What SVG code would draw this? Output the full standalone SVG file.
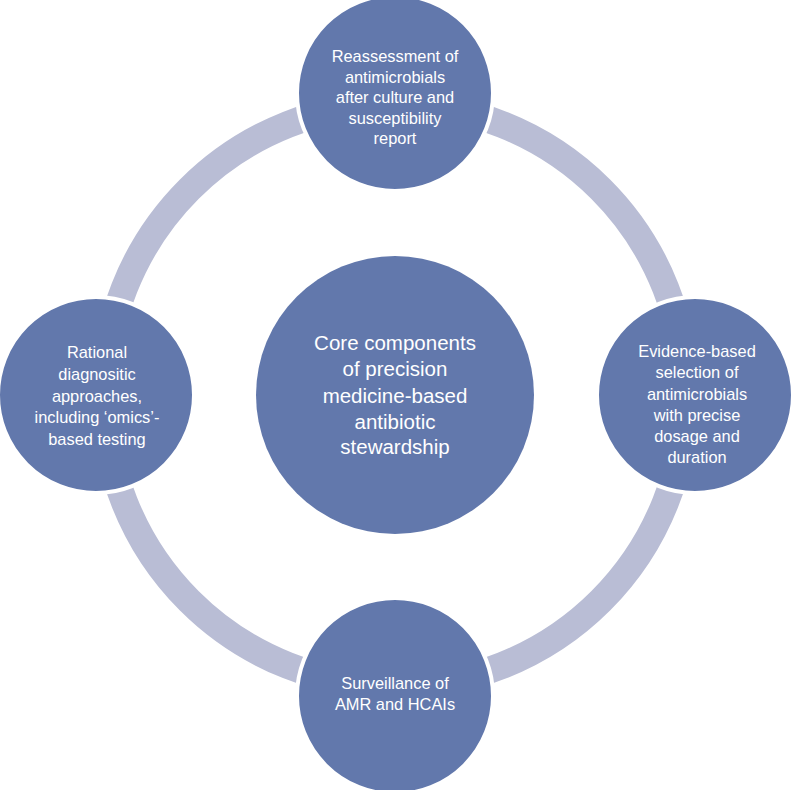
<svg xmlns="http://www.w3.org/2000/svg" width="791" height="790" viewBox="0 0 791 790">
<style>
.ring{fill:none;stroke:#B9BDD5;stroke-width:27}
.node{fill:#6278AC;stroke:#FFFFFF;stroke-width:4}
.core{fill:#6278AC}
text{fill:#FFFFFF;font-family:"Liberation Sans",Arial,sans-serif;text-anchor:middle}
.s{font-size:16.4px}
.c{font-size:20.5px}
</style>
<rect width="791" height="790" fill="#FFFFFF"/>
<g id="connectors">
<circle class="ring" cx="395" cy="395" r="291"/>
</g>
<g id="core">
<circle class="core" cx="395" cy="395" r="139"/>
<text class="c"><tspan x="395" y="350">Core components</tspan><tspan x="395" y="376">of precision</tspan><tspan x="395" y="402.5">medicine-based</tspan><tspan x="395" y="428.5">antibiotic</tspan><tspan x="395" y="454">stewardship</tspan></text>
</g>
<g id="top">
<circle class="node" cx="395" cy="93" r="98"/>
<text class="s"><tspan x="395" y="62">Reassessment of</tspan><tspan x="395" y="82.5">antimicrobials</tspan><tspan x="395" y="103">after culture and</tspan><tspan x="395" y="123.5">susceptibility</tspan><tspan x="395" y="144">report</tspan></text>
</g>
<g id="right">
<circle class="node" cx="695" cy="395" r="98"/>
<text class="s"><tspan x="697" y="357">Evidence-based</tspan><tspan x="697" y="378">selection of</tspan><tspan x="697" y="399.5">antimicrobials</tspan><tspan x="697" y="421">with precise</tspan><tspan x="697" y="442">dosage and</tspan><tspan x="697" y="463">duration</tspan></text>
</g>
<g id="bottom">
<circle class="node" cx="395" cy="696" r="98"/>
<text class="s"><tspan x="395" y="689">Surveillance of</tspan><tspan x="395" y="709.5">AMR and HCAIs</tspan></text>
</g>
<g id="left">
<circle class="node" cx="96" cy="395" r="98"/>
<text class="s"><tspan x="97" y="358">Rational</tspan><tspan x="97" y="380">diagnositic</tspan><tspan x="97" y="401.5">approaches,</tspan><tspan x="97" y="423">including ‘omics’-</tspan><tspan x="97" y="444.5">based testing</tspan></text>
</g>
</svg>
